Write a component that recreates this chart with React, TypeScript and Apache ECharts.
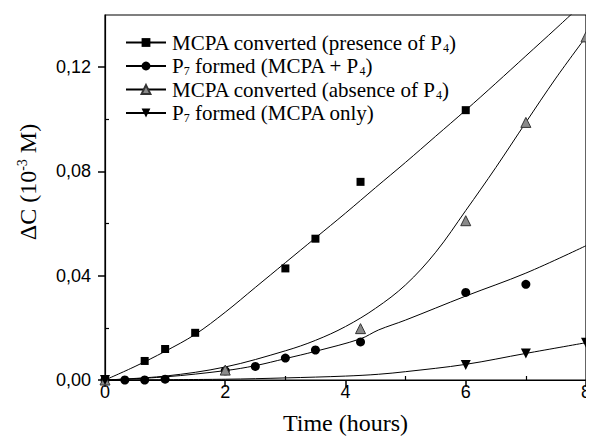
import React, { useEffect, useRef } from "react";
import * as echarts from "echarts";

// Observed data points
const sqX = [0, 0.66, 1.0, 1.5, 3.0, 3.5, 4.25, 6.0];
const sqY = [0, 0.0073, 0.0119, 0.0181, 0.0428, 0.0542, 0.076, 0.1035];

const ciX = [0, 0.33, 0.66, 1.0, 2.0, 2.5, 3.0, 3.5, 4.25, 6.0, 7.0];
const ciY = [0, 0, 0, 0.0003, 0.0035, 0.0052, 0.0084, 0.0115, 0.0146, 0.0336, 0.0367];

const trX = [0, 2.0, 4.25, 6.0, 7.0, 8.0];
const trY = [0, 0.0038, 0.0197, 0.0611, 0.0988, 0.1316];

const itX = [0, 6.0, 7.0, 8.0];
const itY = [0, 0.0058, 0.0102, 0.0143];

// Fitted curves
const sqFitX = [0, 0.5, 1, 1.5, 2, 2.5, 3, 3.5, 4, 4.5, 5, 5.5, 6, 6.5, 7, 7.5, 8];
const sqFitY = [0, 0.0052, 0.011, 0.0175, 0.026, 0.0355, 0.045, 0.0545, 0.064, 0.0738, 0.0835, 0.0935, 0.1035, 0.1138, 0.1243, 0.1348, 0.1455];

const ciFitX = [0, 1, 2, 2.5, 3, 3.5, 4.25, 4.55, 5, 6, 7, 8];
const ciFitY = [0, 0.0012, 0.0036, 0.0055, 0.0082, 0.011, 0.0158, 0.0192, 0.023, 0.0322, 0.041, 0.0515];

const trFitX = [0, 1, 2, 3, 3.5, 4, 4.5, 5, 5.5, 6, 6.5, 7, 7.5, 8];
const trFitY = [0, 0.0015, 0.005, 0.0112, 0.0152, 0.0205, 0.0275, 0.0365, 0.049, 0.065, 0.0815, 0.0988, 0.1158, 0.1316];

const itFitX = [0, 2, 3, 4, 4.55, 5, 6, 7, 8];
const itFitY = [0, 0.0003, 0.0008, 0.0015, 0.0022, 0.0032, 0.006, 0.0102, 0.0143];

const yTicks = [0, 0.04, 0.08, 0.12];
const xTicks = [0, 2, 4, 6, 8];

const names = [
  "MCPA converted (presence of P4)",
  "P7 formed (MCPA + P4)",
  "MCPA converted (absence of P4)",
  "P7 formed (MCPA only)",
];
const legendRich: Record<string, string> = {
  [names[0]]: "{f|MCPA converted (presence of P}{s|4}{n|)}",
  [names[1]]: "{f|P}{s|7}{n| formed (MCPA + P}{s|4}{n|)}",
  [names[2]]: "{f|MCPA converted (absence of P}{s|4}{n|)}",
  [names[3]]: "{f|P}{s|7}{n| formed (MCPA only)}",
};

const zip = (xs: number[], ys: number[]) => xs.map((x, i) => [x, ys[i]]);

const SERIF = "Liberation Serif";
const SANS = "Liberation Sans";
const invTri = "path://M0,0L10,0L5,9Z";

export default function App() {
  const ref = useRef<HTMLDivElement>(null);
  useEffect(() => {
    if (!ref.current) return;
    const chart = echarts.init(ref.current, null, { renderer: "svg" });
    const markers = [
      { sym: "rect", size: 8, fill: "#000", border: "#000" },
      { sym: "circle", size: 9, fill: "#000", border: "#000" },
      { sym: "triangle", size: 10, fill: "#8a8a8a", border: "#333" },
      { sym: invTri, size: 10, fill: "#000", border: "#000" },
    ];
    const fits = [zip(sqFitX, sqFitY), zip(ciFitX, ciFitY), zip(trFitX, trFitY), zip(itFitX, itFitY)];
    const pts = [zip(sqX, sqY), zip(ciX, ciY), zip(trX, trY), zip(itX, itY)];
    const series: any[] = [];
    names.forEach((n, i) => {
      series.push({
        type: "line",
        name: n,
        data: fits[i],
        smooth: 0.35,
        showSymbol: false,
        symbol: markers[i].sym,
        symbolSize: markers[i].size,
        itemStyle: { color: markers[i].fill, borderColor: markers[i].border, borderWidth: i === 2 ? 1 : 0 },
        lineStyle: { color: "#000", width: 1 },
        clip: true,
        silent: true,
      });
    });
    names.forEach((n, i) => {
      series.push({
        type: "scatter",
        name: "pts" + i,
        data: pts[i],
        symbol: markers[i].sym,
        symbolSize: markers[i].size,
        itemStyle: { color: markers[i].fill, borderColor: markers[i].border, borderWidth: i === 2 ? 1 : 0, opacity: 1 },
        clip: false,
        z: 5,
      });
    });
    chart.setOption({
      animation: false,
      grid: { left: 105, right: 6, top: 15, bottom: 64, show: true, borderColor: "#000", borderWidth: 1.2, backgroundColor: "transparent" },
      legend: {
        data: names,
        orient: "vertical",
        left: 120,
        top: 27,
        itemWidth: 40,
        itemHeight: 11,
        itemGap: 2,
        formatter: (name: string) => legendRich[name],
        textStyle: {
          color: "#000",
          rich: {
            f: { fontFamily: SERIF, fontSize: 21, lineHeight: 22, color: "#000", padding: [0, 0, 0, 1] },
            n: { fontFamily: SERIF, fontSize: 21, lineHeight: 22, color: "#000" },
            s: { fontFamily: SERIF, fontSize: 12, color: "#000", verticalAlign: "bottom", padding: [3, 0, 0, 0] },
          },
        },
        selectedMode: false,
      },
      xAxis: [
        {
          type: "value",
          min: 0,
          max: 8,
          interval: 2,
          axisLine: { onZero: false, lineStyle: { color: "#000", width: 1.2 } },
          axisTick: { length: 7, lineStyle: { color: "#000", width: 1.5 }, customValues: xTicks },
          axisLabel: { color: "#000", fontFamily: SANS, fontSize: 18, margin: 3 },
          splitLine: { show: false },
          name: "Time (hours)",
          nameLocation: "middle",
          nameGap: 31,
          nameTextStyle: { fontFamily: SERIF, fontSize: 24, color: "#000" },
        },
        {
          type: "value",
          min: 0,
          max: 8,
          interval: 1,
          position: "bottom",
          axisLine: { show: false },
          axisTick: { inside: true, length: 4, lineStyle: { color: "#000", width: 1.2 }, customValues: [1, 3, 5, 7] },
          axisLabel: { show: false },
          splitLine: { show: false },
        },
      ],
      yAxis: [
        {
          type: "value",
          min: 0,
          max: 0.14,
          interval: 0.04,
          axisLine: { onZero: false, lineStyle: { color: "#000", width: 1.2 } },
          axisTick: { length: 7, lineStyle: { color: "#000", width: 1.5 }, customValues: yTicks },
          axisLabel: {
            color: "#000",
            fontFamily: SANS,
            fontSize: 18,
            margin: 14,
            customValues: yTicks,
            formatter: (v: number) => v.toFixed(2).replace(".", ","),
          },
          splitLine: { show: false },
        },
        {
          type: "value",
          min: 0,
          max: 0.14,
          interval: 0.02,
          position: "left",
          axisLine: { show: false },
          axisTick: { inside: true, length: 4, lineStyle: { color: "#000", width: 1.2 }, customValues: [0.02, 0.06, 0.1] },
          axisLabel: { show: false },
          splitLine: { show: false },
        },
      ],
      graphic: [
        {
          type: "text",
          x: 28,
          y: 182,
          rotation: Math.PI / 2,
          style: {
            text: "{n|ΔC (10}{sup|-3}{n| M)}",
            align: "center",
            verticalAlign: "middle",
            fill: "#000",
            rich: {
              n: { fontFamily: SERIF, fontSize: 24, lineHeight: 26, fill: "#000" },
              sup: { fontFamily: SERIF, fontSize: 14, fill: "#000", verticalAlign: "top" },
            },
          },
        },
      ],
      series,
    });
    return () => chart.dispose();
  }, []);
  return <div ref={ref} style={{ width: 594, height: 444, margin: -8 }} />;
}
